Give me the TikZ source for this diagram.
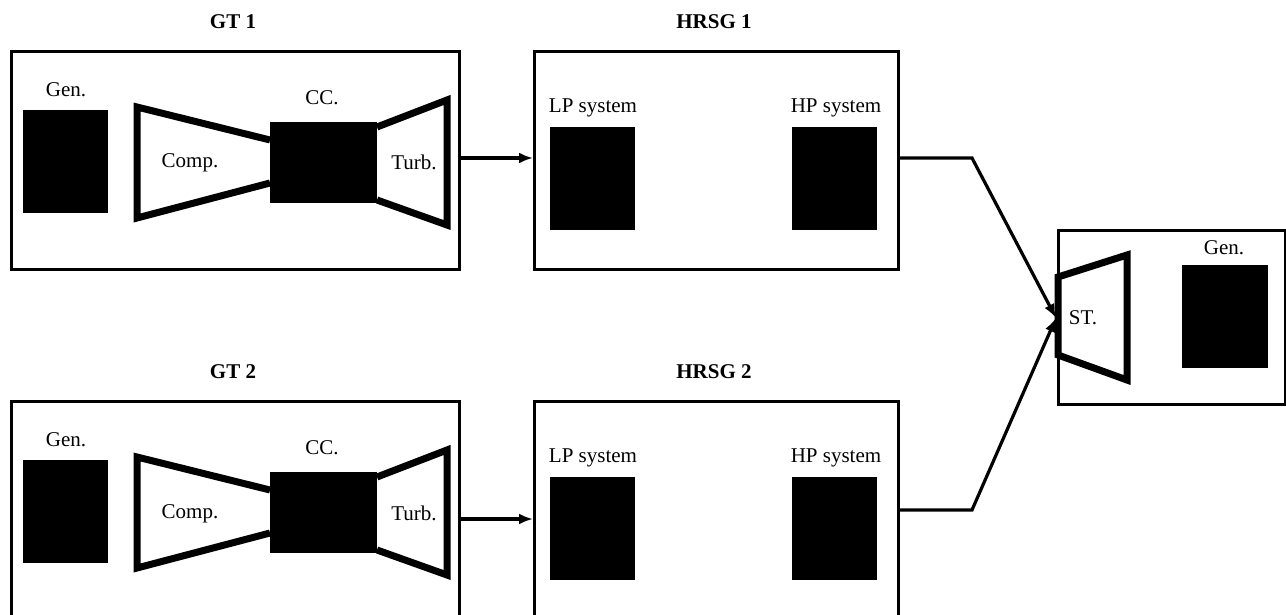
\documentclass[tikz,border=0pt]{standalone}
\usepackage{fontspec}
\setmainfont{Liberation Serif}
\usetikzlibrary{arrows.meta}
\begin{document}
\begin{tikzpicture}[x=1pt,y=-1pt,
  box/.style={draw,line width=3.2pt,inner sep=0pt,anchor=north west},
  blk/.style={fill=black,inner sep=0pt,anchor=north west},
  lbl/.style={font=\fontsize{21}{21}\selectfont,inner sep=0pt},
  ttl/.style={font=\fontsize{21}{21}\selectfont\bfseries,inner sep=0pt},
  blade/.style={line width=7pt,line join=miter},
  flow/.style={line width=3.2pt},
  arr/.style={flow,-{Latex[length=14pt,width=11pt]}}]
\useasboundingbox (0,0) rectangle (1286,615);

% ---------- GT 1 ----------
\node[ttl] (t1) at (233,22) {GT 1};
\node[box,minimum width=448pt,minimum height=218pt] (gt1) at (10,50) {};
\node[blk,minimum width=85pt,minimum height=103pt] (gen1) at (23,110) {};
\node[lbl] (gen1l) at (66,90) {Gen.};
\draw[blade] (270,140) -- (137,107) -- (137,218) -- (270,183);
\node[blk,minimum width=107pt,minimum height=81pt] (cc1) at (270,122) {};
\draw[blade] (377,127) -- (447,100) -- (447,225) -- (377,200);
\node[lbl] (comp1) at (190,163) {Comp.};
\node[lbl] (cc1l) at (322,98) {CC.};
\node[lbl] (turb1) at (414,162) {Turb.};

% ---------- HRSG 1 ----------
\node[ttl] (t2) at (714,22) {HRSG 1};
\node[box,minimum width=364pt,minimum height=218pt] (hrsg1) at (533,50) {};
\node[lbl] (lp1l) at (593,108) {LP system};
\node[blk,minimum width=85pt,minimum height=103pt] (lp1) at (550,127) {};
\node[lbl] (hp1l) at (836,108) {HP system};
\node[blk,minimum width=85pt,minimum height=103pt] (hp1) at (792,127) {};

% ---------- GT 2 ----------
\node[ttl] (t3) at (233,372) {GT 2};
\node[box,minimum width=448pt,minimum height=240pt] (gt2) at (10,400) {};
\node[blk,minimum width=85pt,minimum height=103pt] (gen2) at (23,460) {};
\node[lbl] (gen2l) at (66,440) {Gen.};
\draw[blade] (270,490) -- (137,457) -- (137,568) -- (270,533);
\node[blk,minimum width=107pt,minimum height=81pt] (cc2) at (270,472) {};
\draw[blade] (377,477) -- (447,450) -- (447,575) -- (377,550);
\node[lbl] (comp2) at (190,514) {Comp.};
\node[lbl] (cc2l) at (322,448) {CC.};
\node[lbl] (turb2) at (414,513) {Turb.};

% ---------- HRSG 2 ----------
\node[ttl] (t4) at (714,372) {HRSG 2};
\node[box,minimum width=364pt,minimum height=240pt] (hrsg2) at (533,400) {};
\node[lbl] (lp2l) at (593,458) {LP system};
\node[blk,minimum width=85pt,minimum height=103pt] (lp2) at (550,477) {};
\node[lbl] (hp2l) at (836,458) {HP system};
\node[blk,minimum width=85pt,minimum height=103pt] (hp2) at (792,477) {};

% ---------- ST ----------
\node[box,minimum width=227pt,minimum height=174pt] (st) at (1057,229) {};
\draw[blade] (1127,255) -- (1058,277) -- (1058,355) -- (1127,380) -- cycle;
\node[lbl] (stl) at (1083,318) {ST.};
\node[blk,minimum width=86pt,minimum height=103pt] (gen3) at (1182,265) {};
\node[lbl] (gen3l) at (1224,248) {Gen.};

% ---------- connectors ----------
\coordinate (a1) at (0,158);
\coordinate (a2) at (0,519);
\coordinate (j1) at (972,158);
\coordinate (j2) at (972,510);
\coordinate (sttip) at (1056,318);
\draw[arr] (gt1.east |- a1) -- (hrsg1.west |- a1);
\draw[arr] (gt2.east |- a2) -- (hrsg2.west |- a2);
\draw[arr] (hrsg1.east |- j1) -- (j1) -- (sttip);
\draw[arr] (hrsg2.east |- j2) -- (j2) -- (sttip);
\end{tikzpicture}
\end{document}
